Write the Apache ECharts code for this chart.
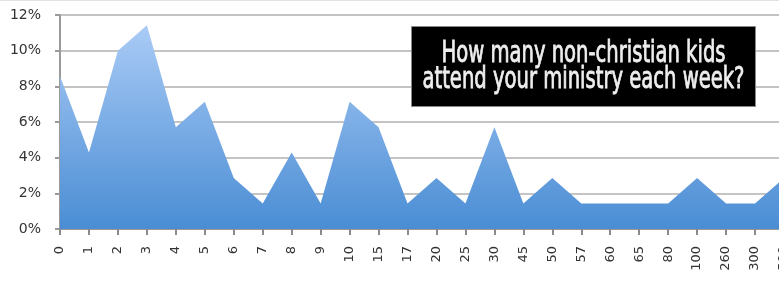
<!DOCTYPE html>
<html>
<head>
<meta charset="utf-8">
<script src="https://cdn.jsdelivr.net/npm/echarts@6/dist/echarts.min.js"></script>
<style>
  html, body { margin: 0; padding: 0; background: #fff; overflow: hidden; }
  #frame { width: 779px; height: 281px; overflow: hidden; position: relative; border-top: 1px solid #e2e2e2; box-sizing: border-box; }
  #kids_area_chart { width: 800px; height: 280px; position: absolute; left: 0; top: 0; }
</style>
</head>
<body>
<div id="frame"><div id="kids_area_chart"></div></div>
<script>
// kids per week (answer buckets) and share of respondents, in percent
const kidCounts = ['0', '1', '2', '3', '4', '5', '6', '7', '8', '9', '10', '15', '17', '20', '25', '30', '45', '50', '57', '60', '65', '80', '100', '260', '300', '500'];
const sharePct = [8.57, 4.29, 10.0, 11.43, 5.71, 7.14, 2.86, 1.43, 4.29, 1.43, 7.14, 5.71, 1.43, 2.86, 1.43, 5.71, 1.43, 2.86, 1.43, 1.43, 1.43, 1.43, 2.86, 1.43, 1.43, 2.86];
const yTicks = [0, 2, 4, 6, 8, 10, 12];
const titleLines = ['How many non-christian kids', 'attend your ministry each week?'];

const chartDom = document.getElementById('kids_area_chart');
const myChart = echarts.init(chartDom);

const titleFont = '30px "DejaVu Sans Condensed", "DejaVu Sans"';
// squeeze the title so the longest line fits the box
const ctx = document.createElement('canvas').getContext('2d');
ctx.font = titleFont;
const widest = Math.max(...titleLines.map((t) => ctx.measureText(t).width));
const squeeze = 322 / widest;

const option = {
  animation: false,
  grid: { left: 60, right: 16, top: 14, bottom: 52 },
  xAxis: {
    type: 'category',
    boundaryGap: false,
    data: kidCounts,
    z: 0,
    axisLine: { lineStyle: { color: '#9a9a9a', width: 2 } },
    axisTick: { show: true, length: 6, lineStyle: { color: '#8a8a8a', width: 2 } },
    axisLabel: { rotate: 90, margin: 17, fontSize: 13, color: '#333', fontFamily: 'DejaVu Sans', interval: 0 }
  },
  yAxis: {
    type: 'value',
    min: yTicks[0],
    max: yTicks[yTicks.length - 1],
    interval: 2,
    z: 0,
    axisLine: { show: true, lineStyle: { color: '#9a9a9a', width: 2 } },
    axisTick: { show: true, length: 5, lineStyle: { color: '#9a9a9a', width: 2 } },
    axisLabel: { formatter: '{value}%', fontSize: 14, color: '#333', fontFamily: 'DejaVu Sans', margin: 19 },
    splitLine: { lineStyle: { color: '#c4c4c4', width: 2 } }
  },
  series: [{
    type: 'line',
    z: 3,
    data: sharePct,
    symbol: 'none',
    lineStyle: { width: 0 },
    areaStyle: {
      opacity: 1,
      color: new echarts.graphic.LinearGradient(0, 0, 0, 1, [
        { offset: 0, color: '#aacbf6' },
        { offset: 1, color: '#4a8dd4' }
      ])
    }
  }],
  graphic: [{
    type: 'group',
    left: 411,
    top: 25,
    z: 20,
    children: [
      { type: 'rect', z: 20, shape: { x: 0, y: 0, width: 344, height: 80 }, style: { fill: '#000', stroke: '#888', lineWidth: 1 } },
      {
        type: 'text', z: 21, x: 172, y: 28, scaleX: squeeze,
        style: { text: titleLines[0], fill: '#eeeeee', stroke: '#eeeeee', lineWidth: 0.8, font: titleFont, align: 'center', verticalAlign: 'middle' }
      },
      {
        type: 'text', z: 21, x: 172, y: 54, scaleX: squeeze,
        style: { text: titleLines[1], fill: '#eeeeee', stroke: '#eeeeee', lineWidth: 0.8, font: titleFont, align: 'center', verticalAlign: 'middle' }
      }
    ]
  }]
};

myChart.setOption(option);
</script>
</body>
</html>
